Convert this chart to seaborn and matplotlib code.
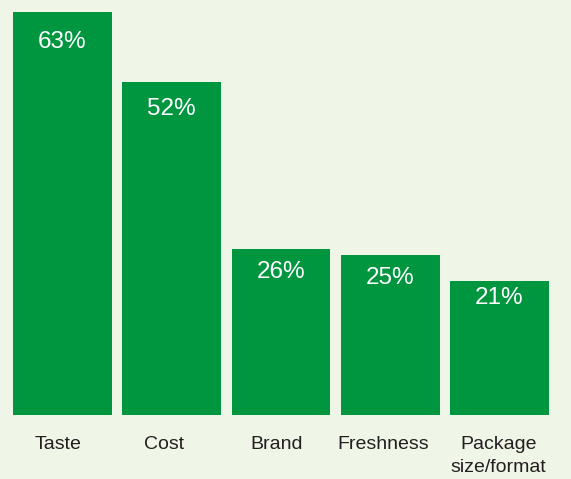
import matplotlib
matplotlib.use("Agg")
import matplotlib.pyplot as plt
import matplotlib.transforms as mtrans
import seaborn as sns
import pandas as pd

categories = ["Taste", "Cost", "Brand", "Freshness", "Package\nsize/format"]
values = [63, 52, 26, 25, 21]
value_labels = ["63%", "52%", "26%", "25%", "21%"]

# styling
bg = "#eff5e7"
bar_color = "#00963f"
text_color = "#231f20"
label_shift = [-0.04, -0.07, -0.04, -0.06, -0.01]   # category label offsets
value_drop_px = [30, 27, 23, 23, 17]                 # value label offset below bar top

sns.set_theme(style="white")
plt.rcParams["font.family"] = ["Liberation Sans", "DejaVu Sans"]

W, H, dpi = 571, 479, 100
fig = plt.figure(figsize=(W / dpi, H / dpi), dpi=dpi, facecolor=bg)
base_px = 415
ax = fig.add_axes([0, (H - base_px) / H, 1, base_px / H])
ax.set_facecolor(bg)

df = pd.DataFrame({"cat": categories, "val": values})
sns.barplot(data=df, x="cat", y="val", color=bar_color, saturation=1,
            width=0.906, linewidth=0, ax=ax)

px_per_unit = 109.25
x0 = -0.453 - 13 / px_per_unit
ax.set_xlim(x0, x0 + W / px_per_unit)
ax.set_ylim(0, base_px / 6.4)
ax.set_xticks([])
ax.set_yticks([])
ax.set_xlabel("")
ax.set_ylabel("")
for s in ax.spines.values():
    s.set_visible(False)

for i, (v, lab) in enumerate(zip(values, value_labels)):
    ax.annotate(lab, (i, v), xytext=(0, -value_drop_px[i] * 72 / dpi),
                textcoords="offset points", ha="center", va="center",
                color="white", fontsize=17.5)

trans = mtrans.blended_transform_factory(ax.transData, fig.transFigure)
for i, c in enumerate(categories):
    ax.text(i + label_shift[i], 1 - 436 / H, c, transform=trans,
            ha="center", va="top", color=text_color, fontsize=14,
            linespacing=1.45, clip_on=False)

fig.savefig("out.png", dpi=dpi, facecolor=bg)
